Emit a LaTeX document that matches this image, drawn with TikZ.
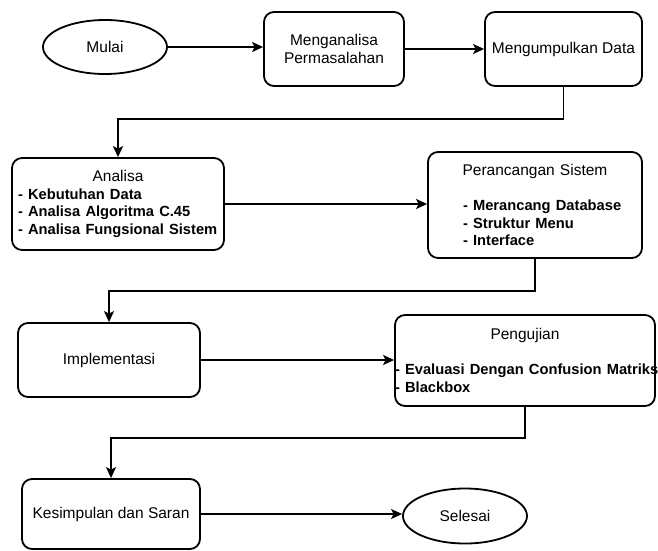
\documentclass[tikz,border=0pt]{standalone}
\usepackage{fontspec}
\setmainfont{Liberation Sans}
\usetikzlibrary{shapes.geometric,arrows.meta}
\begin{document}
\begin{tikzpicture}[x=1pt,y=1pt,
  txt/.style={font=\fontsize{15.5}{17.5}\selectfont},
  box/.style={txt, draw, line width=1.8pt, rounded corners=10pt, fill=white, inner sep=0pt, align=center},
  oval/.style={txt, draw, ellipse, line width=1.8pt, inner sep=0pt, minimum width=124pt, minimum height=54pt},
  conn/.style={line width=1.8pt, -{Stealth[length=11pt,width=10pt,inset=2.5pt]}}
]
\newcommand\itm[1]{\mbox{\fontsize{14.7}{17.5}\selectfont\bfseries #1}}
\useasboundingbox (0,0) rectangle (658,-550);

\node[oval] (mulai) at (105,-47) {Mulai};
\node[box, minimum width=140pt, minimum height=74pt] (anal1) at (334,-49) {Menganalisa\\Permasalahan};
\node[box, minimum width=157pt, minimum height=74pt] (kumpul) at (563.5,-49) {Mengumpulkan Data};

\node[box, align=left, text width=200pt, inner xsep=6pt, minimum height=92pt] (analisa) at (118,-204)
  {\makebox[200pt]{Analisa}\\
   \itm{- Kebutuhan Data}\\
   \itm{- Analisa Algoritma C.45}\\
   \itm{- Analisa Fungsional Sistem}};

\node[box, align=left, text width=202pt, inner xsep=6pt, minimum height=106pt] (rancang) at (535,-205)
  {\makebox[202pt]{Perancangan Sistem}\\[17.5pt]
   \hspace*{29pt}\itm{- Merancang Database}\\
   \hspace*{29pt}\itm{- Struktur Menu}\\
   \hspace*{29pt}\itm{- Interface}};

\node[box, minimum width=182pt, minimum height=74pt] (impl) at (109,-360) {Implementasi};

\node[box, align=left, text width=260pt, inner xsep=0pt, minimum height=91pt] (uji) at (525,-360.5)
  {\makebox[260pt]{Pengujian}\\[17.5pt]
   \itm{- Evaluasi Dengan Confusion Matriks}\\
   \itm{- Blackbox}};

\node[box, minimum width=178pt, minimum height=70pt] (simpul) at (111,-514) {Kesimpulan dan Saran};
\node[oval, minimum height=55pt] (selesai) at (465,-516) {Selesai};

\draw[conn] (mulai.east) -- (mulai.east -| anal1.west);
\draw[conn] (anal1.east) -- (kumpul.west);
\draw[conn] (kumpul.south) -- ++(0,-32) -| (analisa.north);
\draw[conn] (analisa.east) -- (analisa.east -| rancang.west);
\draw[conn] (rancang.south) -- ++(0,-32) -| (impl.north);
\draw[conn] (impl.east) -- (impl.east -| uji.west);
\draw[conn] (uji.south) -- ++(0,-31) -| (simpul.north);
\draw[conn] (simpul.east) -- (simpul.east -| selesai.west);
\end{tikzpicture}
\end{document}
